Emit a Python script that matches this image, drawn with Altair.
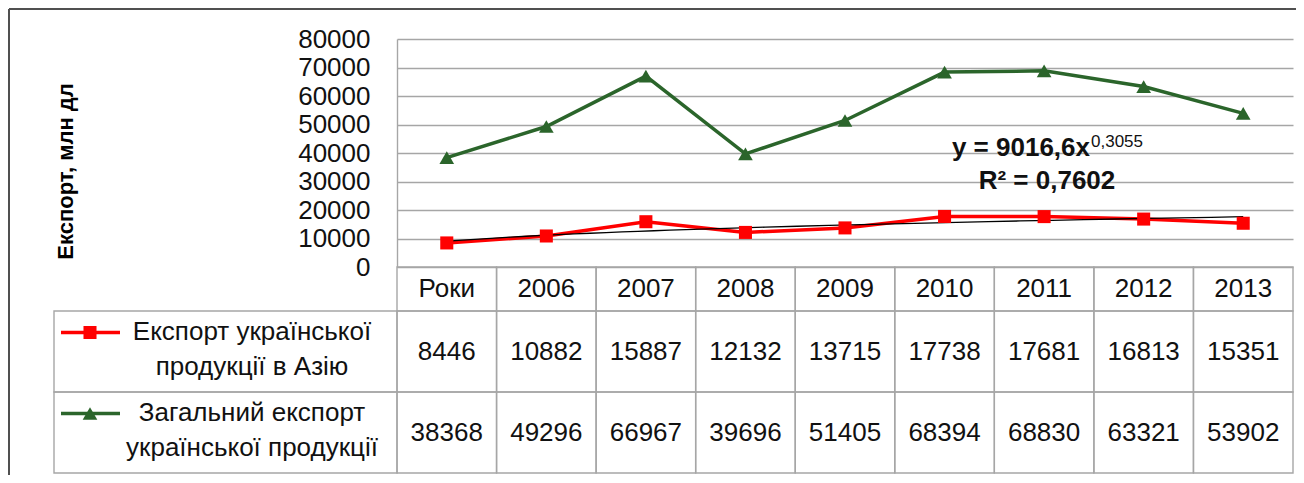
import altair as alt
import pandas as pd

# ---------------- data ----------------
categories = ["Роки", "2006", "2007", "2008", "2009", "2010", "2011", "2012", "2013"]
asia_export = [8446, 10882, 15887, 12132, 13715, 17738, 17681, 16813, 15351]
total_export = [38368, 49296, 66967, 39696, 51405, 68394, 68830, 63321, 53902]
series_names = ["Експорт української продукції в Азію",
                "Загальний експорт української продукції"]
series_labels = ["Експорт української\nпродукції в Азію",
                 "Загальний експорт\nукраїнської продукції"]
y_ticks = [0, 10000, 20000, 30000, 40000, 50000, 60000, 70000, 80000]
y_title = "Експорт, млн дл"
trend_equation = "y = 9016,6x"
trend_exponent = "0,3055"
trend_r2 = "R² = 0,7602"

# ---------------- styles ----------------
FONT = "Liberation Sans"
GRID = "#A6A6A6"
LINE_COLORS = ["#FF0000", "#2B652B"]
MARK_COLORS = ["#FF0000", "#2E7B2E"]
W, H = 896, 228

rows = []
for i, cat in enumerate(categories):
    rows.append({"idx": i + 1, "cat": cat, "series": series_names[0], "value": asia_export[i]})
    rows.append({"idx": i + 1, "cat": cat, "series": series_names[1], "value": total_export[i]})
df = pd.DataFrame(rows)
cat_df = pd.DataFrame({"idx": list(range(1, len(categories) + 1)), "cat": categories})
leg_df = pd.DataFrame({"series": series_names, "label": series_labels})

xs = alt.Scale(domain=[0.5, len(categories) + 0.5], nice=False, zero=False)
ys = alt.Scale(domain=[0, 80000], nice=False)
rows_scale = alt.Scale(type="band", domain=series_names, range=[272, 434],
                       paddingInner=0, paddingOuter=0)
col_line = alt.Color("series:N", scale=alt.Scale(domain=series_names, range=LINE_COLORS), legend=None)
col_mark = alt.Color("series:N", scale=alt.Scale(domain=series_names, range=MARK_COLORS), legend=None)
shape_enc = alt.Shape("series:N", scale=alt.Scale(domain=series_names, range=["square", "triangle-up"]), legend=None)
size_enc = alt.Size("series:N", scale=alt.Scale(domain=series_names, range=[170, 215]), legend=None)

X = alt.X("idx:Q", scale=xs, axis=None)
Yrow = alt.Y("series:N", scale=rows_scale, axis=None)

base = alt.Chart(df)

lines = base.mark_line(strokeWidth=3.5).encode(
    x=X,
    y=alt.Y("value:Q", scale=ys, axis=alt.Axis(
        values=y_ticks, format="d", grid=True, gridColor=GRID, gridWidth=1.4,
        domain=True, domainColor=GRID, domainWidth=1.4, ticks=False,
        labelFontSize=26, labelColor="#111", labelPadding=27, labelFont=FONT,
        title=y_title, titleFontSize=22, titleFontWeight="bold", titleColor="#000",
        titleFont=FONT, titleX=-332, titleY=132, titleAngle=270,
        titleAlign="center", titleBaseline="middle")),
    color=col_line,
)

trend = base.transform_filter(alt.datum.series == series_names[0]).transform_regression(
    "idx", "value", method="pow", extent=[1, len(categories)]
).mark_line(color="#000", strokeWidth=1.3).encode(
    x=X, y=alt.Y("value:Q", scale=ys, axis=None))

points = base.mark_point(filled=True, opacity=1).encode(
    x=X, y=alt.Y("value:Q", scale=ys, axis=None),
    color=col_mark, shape=shape_enc, size=size_enc)

# ---- table ----
header_cells = alt.Chart(cat_df).transform_calculate(
    x0="datum.idx - 0.5", x1="datum.idx + 0.5"
).mark_rect(fillOpacity=0, stroke=GRID, strokeWidth=1.4).encode(
    x=alt.X("x0:Q", scale=xs, axis=None), x2="x1:Q",
    y=alt.value(228), y2=alt.value(272))

header_text = alt.Chart(cat_df).mark_text(fontSize=26, font=FONT, color="#111").encode(
    x=X, y=alt.value(250), text="cat:N")

value_cells = base.transform_calculate(
    x0="datum.idx - 0.5", x1="datum.idx + 0.5"
).mark_rect(fillOpacity=0, stroke=GRID, strokeWidth=1.4).encode(
    x=alt.X("x0:Q", scale=xs, axis=None), x2="x1:Q", y=Yrow)

value_text = base.mark_text(fontSize=26, font=FONT, color="#111").encode(
    x=X, y=Yrow, text=alt.Text("value:Q", format="d"))

leg = alt.Chart(leg_df)
label_cells = leg.mark_rect(fillOpacity=0, stroke=GRID, strokeWidth=1.4).encode(
    x=alt.value(-343), x2=alt.value(0), y=Yrow)
label_text = leg.mark_text(fontSize=26, font=FONT, color="#111", lineBreak="\n",
                           lineHeight=35, align="center", baseline="middle", dy=-20).encode(
    x=alt.value(-145), y=Yrow, text="label:N")
leg_lines = leg.mark_rule(strokeWidth=3.5, yOffset=-19).encode(
    x=alt.value(-336), x2=alt.value(-277), y=Yrow, color=col_line)
leg_marks = leg.mark_point(filled=True, opacity=1, yOffset=-19).encode(
    x=alt.value(-307), y=Yrow, color=col_mark, shape=shape_enc, size=size_enc)

# ---- trend annotation ----
ann = alt.Chart(pd.DataFrame({"eq": [trend_equation], "ex": [trend_exponent], "r2": [trend_r2]}))
eq_text = ann.mark_text(fontSize=26, fontWeight="bold", font=FONT, align="right",
                        baseline="alphabetic", color="#111").encode(
    x=alt.value(693), y=alt.value(117), text="eq:N")
ex_text = ann.mark_text(fontSize=17, font=FONT, align="left",
                        baseline="alphabetic", color="#111").encode(
    x=alt.value(694), y=alt.value(108), text="ex:N")
r2_text = ann.mark_text(fontSize=26, fontWeight="bold", font=FONT, align="center",
                        baseline="alphabetic", color="#111").encode(
    x=alt.value(650), y=alt.value(150), text="r2:N")

# ---- outer frame (top & left edges) ----
frame_top = ann.mark_rule(color="#505050", strokeWidth=2).encode(
    x=alt.value(-388), x2=alt.value(W + 3), y=alt.value(-30))
frame_left = ann.mark_rule(color="#505050", strokeWidth=2).encode(
    x=alt.value(-388), y=alt.value(-30), y2=alt.value(440))

chart = alt.layer(
    header_cells, value_cells, label_cells,
    lines, trend, points,
    header_text, value_text, label_text, leg_lines, leg_marks,
    eq_text, ex_text, r2_text, frame_top, frame_left,
).resolve_scale(y="independent").properties(
    width=W, height=H,
    padding={"left": 389, "top": 31, "right": 3, "bottom": 208},
    autosize=alt.AutoSizeParams(type="none"),
    background="white",
).configure(font=FONT).configure_view(stroke=None)

chart.save("out.html", embed_options={"renderer": "svg", "actions": False})
